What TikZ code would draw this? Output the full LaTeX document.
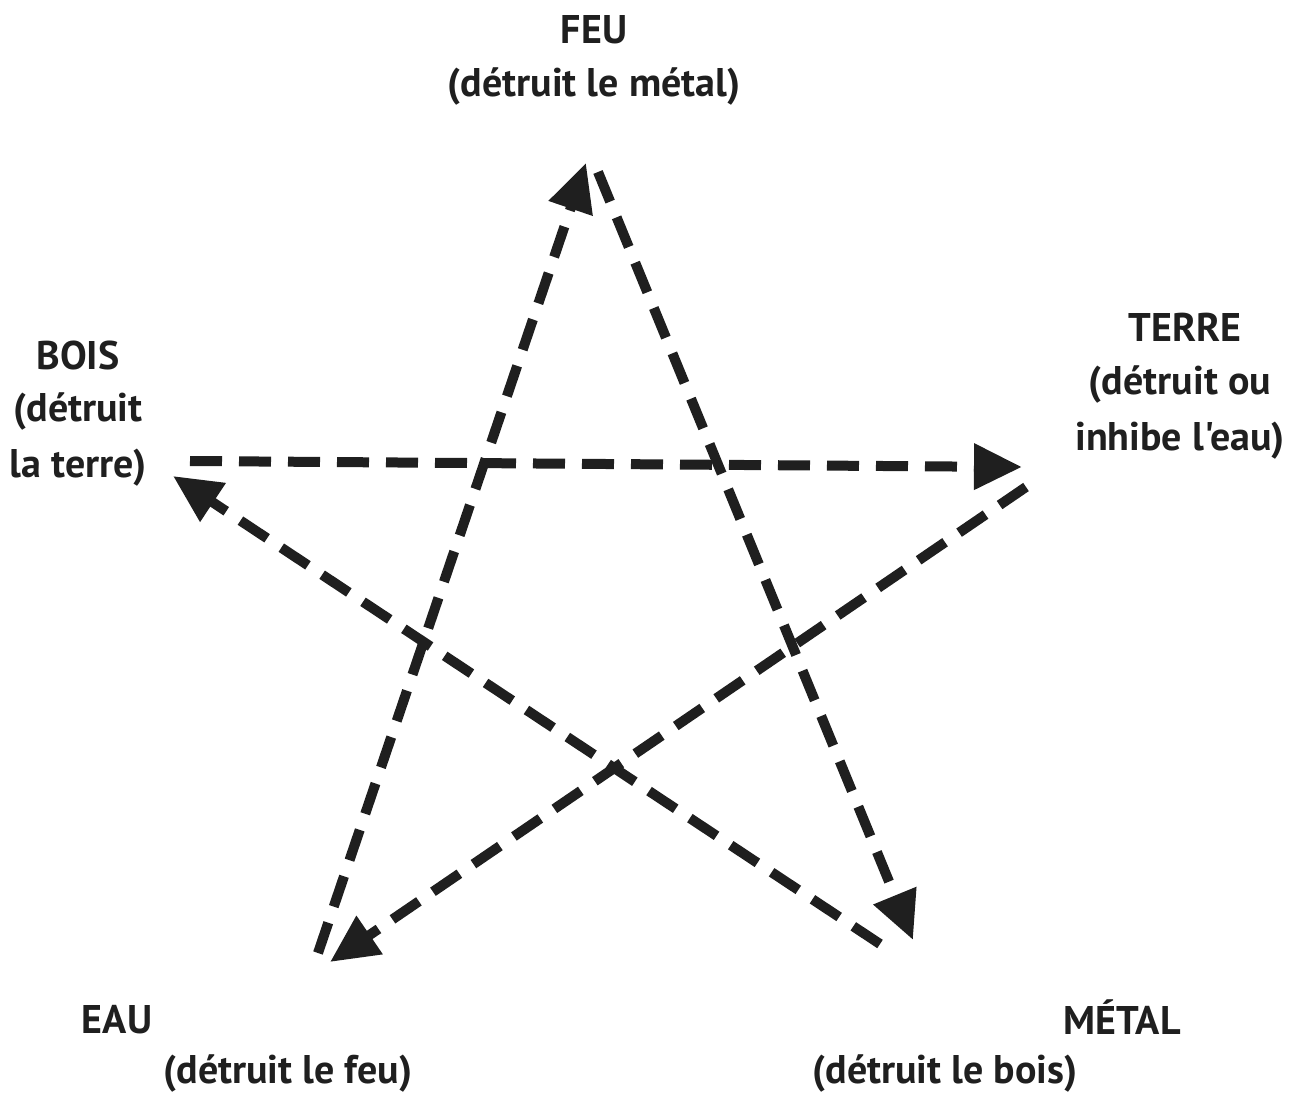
\documentclass[tikz,border=0pt]{standalone}
\usepackage{fontspec}
\newfontfamily\lblfont{PT Sans}
\usetikzlibrary{arrows.meta}
\begin{document}
\begin{tikzpicture}[x=1pt,y=-1pt,
  lbl/.style={font=\lblfont\fontsize{40}{56}\selectfont\bfseries, align=center, inner sep=0pt, text=black!88},
  conn/.style={line width=10pt, draw=black!88, dash pattern=on 32pt off 17pt,
    -{Triangle[length=48pt,width=44pt]}}]
\useasboundingbox (0,0) rectangle (1309,1094);
\node[lbl] (feu) at (594,30) {FEU};
\node[lbl] (feud) at (594,87) {(détruit le métal)};
\node[lbl] (bois) at (78,355) {BOIS};
\node[lbl] (boisd) at (78,439) {(détruit\\la terre)};
\node[lbl] (terre) at (1185,327) {TERRE};
\node[lbl] (terred) at (1180,412) {(détruit ou\\inhibe l'eau)};
\node[lbl] (eau) at (117,1020) {EAU};
\node[lbl] (eaud) at (288,1073) {(détruit le feu)};
\node[lbl] (metal) at (1122,1017) {MÉTAL};
\node[lbl] (metald) at (945,1073) {(détruit le bois)};
\coordinate (b1) at (190,461);
\coordinate (t1) at (1022,467);
\coordinate (t2) at (1026,487);
\coordinate (e1) at (330,962);
\coordinate (e2) at (318,953);
\coordinate (f1) at (586,163);
\coordinate (f2) at (598,172);
\coordinate (m1) at (913,940);
\coordinate (m2) at (880,944);
\coordinate (b2) at (173,476);
\draw[conn] (b1) -- (t1);
\draw[conn] (t2) -- (e1);
\draw[conn] (e2) -- (f1);
\draw[conn] (f2) -- (m1);
\draw[conn] (m2) -- (b2);
\end{tikzpicture}
\end{document}
